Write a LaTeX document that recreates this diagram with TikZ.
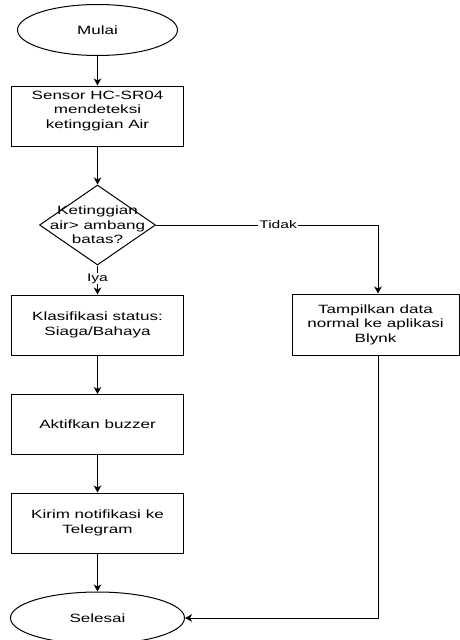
\documentclass[tikz,border=0pt]{standalone}
\usepackage{fontspec}
\setmainfont{Liberation Sans}[FakeStretch=1.42]
\usetikzlibrary{shapes.geometric,arrows.meta}
\tikzset{
  base/.style={draw=black, line width=1pt, fill=white, inner sep=0pt, align=center,
    font=\fontsize{12}{14.5}\selectfont, text=black},
  proc/.style={base, rectangle, minimum width=172pt, minimum height=60pt},
  term/.style={base, ellipse},
  decis/.style={base, diamond, minimum width=116pt, minimum height=80pt},
  txt/.style={inner sep=0pt, align=center, font=\fontsize{12}{14.5}\selectfont, text=black},
  lab/.style={fill=white, inner sep=1pt, font=\fontsize{11}{13}\selectfont, text=black},
  arr/.style={draw=black, line width=1pt, -{Stealth[length=7pt,width=7.5pt,inset=2pt]}},
  ln/.style={draw=black, line width=1pt}
}
\begin{document}
\begin{tikzpicture}[x=1pt,y=-1pt]
\useasboundingbox (0,0) rectangle (460,640);
\fill[white] (0,0) rectangle (460,640);
\node[term, minimum width=160pt, minimum height=51pt] (start) at (97.5,30) {Mulai};
\node[proc] (sensor) at (97.5,116) {};
\node[txt, yshift=5pt] (sensortext) at (sensor) {Sensor HC-SR04\\mendeteksi\\ketinggian Air};
\node[decis] (dec) at (97.5,225) {};
\node[txt] (dectext) at (dec) {Ketinggian\\air> ambang\\batas?};
\node[proc] (klas) at (97.5,325) {Klasifikasi status:\\Siaga/Bahaya};
\node[proc] (buzz) at (97.5,424.5) {Aktifkan buzzer};
\node[proc] (kirim) at (97.5,523) {Kirim notifikasi ke\\Telegram};
\node[term, minimum width=174pt, minimum height=52pt] (end) at (97.5,618) {Selesai};
\node[proc, minimum width=167pt, minimum height=61pt] (blynk) at (375.5,324.5) {Tampilkan data\\normal ke aplikasi\\Blynk};
\coordinate (tc) at (378,225);

\draw[arr] (start) -- (sensor);
\draw[arr] (sensor) -- (dec);
\draw[arr] (dec.south) -- node[lab, pos=0.45] {Iya} (klas.north);
\draw[arr] (klas) -- (buzz);
\draw[arr] (buzz) -- (kirim);
\draw[arr] (kirim) -- (end);
\draw[ln] (dec.east) -- node[lab, pos=0.55] {Tidak} (tc);
\draw[arr] (tc) -- (tc |- blynk.north);
\draw[arr] (blynk.south -| tc) -- (tc |- end) -- (end.east);
\end{tikzpicture}
\end{document}
